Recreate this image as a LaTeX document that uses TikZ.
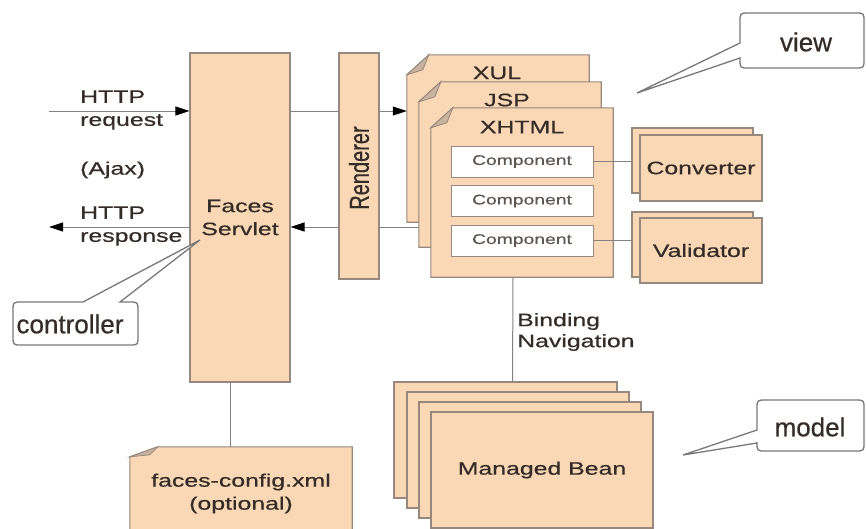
\documentclass[tikz,border=0pt]{standalone}
\usepackage{fontspec}
\usepackage{graphicx}
\setmainfont{Liberation Sans}
\newfontfamily\sfw[FakeStretch=1.38,FakeBold=0.6]{Liberation Sans}
\newfontfamily\sfr[FakeBold=0.6]{Liberation Sans}
\newfontfamily\sfc[FakeBold=0.5]{Liberation Sans}
\usetikzlibrary{arrows.meta}
\definecolor{peach}{RGB}{250,216,182}
\definecolor{edgec}{RGB}{150,136,124}
\definecolor{ink}{RGB}{52,44,40}
\definecolor{wire}{RGB}{130,130,130}
\definecolor{fold}{RGB}{200,180,160}
\definecolor{callc}{RGB}{120,120,120}
\begin{document}
\begin{tikzpicture}[x=1pt,y=-1pt,
  box/.style={draw=edgec, fill=peach, line width=1.1pt, inner sep=0pt, font=\sfw\fontsize{18}{23}\selectfont, text=ink, align=center},
  pagen/.style={draw=none, inner sep=0pt},
  pageshape/.style={draw=edgec, fill=peach, line width=1.1pt},
  foldshape/.style={draw=edgec, fill=fold, line width=0.8pt},
  lbl/.style={font=\sfw\fontsize{18}{23}\selectfont, text=ink, inner sep=0pt},
  comp/.style={draw=edgec, fill=white, line width=1pt, inner sep=0pt, minimum width=142pt, minimum height=31pt, font=\sfw\fontsize{14}{16}\selectfont, text=ink!80},
  wireline/.style={draw=wire, line width=1pt},
  arr/.style={-{Triangle[length=14pt,width=9pt,color=black,fill=black]}},
  callout/.style={draw=callc, line width=1.3pt, fill=white},
  calltext/.style={font=\sfc\fontsize{26}{30}\selectfont, text=ink, inner sep=0pt}]
\useasboundingbox (0,0) rectangle (866,528);
\clip (0,0) rectangle (866,528);

% Faces Servlet and Renderer
\node[box, minimum width=100pt, minimum height=329pt] (fs) at (240,217.5) {Faces\\Servlet};
\node[box, minimum width=40pt, minimum height=226pt] (ren) at (359,166) {};
\node[text=ink, rotate=90, inner sep=0pt] (rentxt) at (359,168) {\scalebox{1}[1.38]{\sfr\fontsize{20}{24}\selectfont Renderer}};

% pages
\node[pagen, minimum width=182pt, minimum height=167pt] (xul) at (498,138.5) {};
\filldraw[pageshape] ([xshift=22pt]xul.north west) -- (xul.north east) -- (xul.south east) -- (xul.south west) -- ([yshift=-20pt]xul.north west) -- cycle;
\filldraw[foldshape] ([xshift=22pt]xul.north west) -- ([yshift=-20pt]xul.north west) -- ([xshift=16pt,yshift=-15pt]xul.north west) -- cycle;
\node[lbl] (xullbl) at (497,73) {XUL};

\node[pagen, minimum width=182pt, minimum height=165pt] (jsp) at (510,164.5) {};
\filldraw[pageshape] ([xshift=22pt]jsp.north west) -- (jsp.north east) -- (jsp.south east) -- (jsp.south west) -- ([yshift=-20pt]jsp.north west) -- cycle;
\filldraw[foldshape] ([xshift=22pt]jsp.north west) -- ([yshift=-20pt]jsp.north west) -- ([xshift=16pt,yshift=-15pt]jsp.north west) -- cycle;
\node[lbl] (jsplbl) at (507,100) {JSP};

\node[pagen, minimum width=182pt, minimum height=169pt] (xhtml) at (522,192.5) {};
\filldraw[pageshape] ([xshift=22pt]xhtml.north west) -- (xhtml.north east) -- (xhtml.south east) -- (xhtml.south west) -- ([yshift=-20pt]xhtml.north west) -- cycle;
\filldraw[foldshape] ([xshift=22pt]xhtml.north west) -- ([yshift=-20pt]xhtml.north west) -- ([xshift=16pt,yshift=-15pt]xhtml.north west) -- cycle;
\node[lbl] (xhtmllbl) at (522,127) {XHTML};

\node[comp] (c1) at (522,161.5) {Component};
\node[comp] (c2) at (522,201) {Component};
\node[comp] (c3) at (522,240.5) {Component};

% Converter / Validator
\node[box, minimum width=121pt, minimum height=65pt] (convb) at (692.5,160.5) {};
\node[box, minimum width=122pt, minimum height=66pt] (conv) at (701,168) {Converter};
\node[box, minimum width=121pt, minimum height=65pt] (valb) at (692.5,244.5) {};
\node[box, minimum width=122pt, minimum height=65pt] (val) at (701,250.5) {Validator};
\draw[wireline] (c1.east) -- (c1.east -| convb.west);
\draw[wireline] (c3.east) -- (c3.east -| valb.west);

% Managed beans
\node[box, minimum width=223pt, minimum height=116pt] (b1) at (505.5,440) {};
\node[box, minimum width=222pt, minimum height=116pt] (b2) at (518,450) {};
\node[box, minimum width=222pt, minimum height=116pt] (b3) at (530,460) {};
\node[box, minimum width=222pt, minimum height=116pt] (b4) at (542,470) {Managed Bean};

% faces-config
\node[pagen, minimum width=222pt, minimum height=93pt] (cfg) at (241,493.5) {};
\filldraw[pageshape] ([xshift=28pt]cfg.north west) -- (cfg.north east) -- (cfg.south east) -- (cfg.south west) -- ([yshift=-10pt]cfg.north west) -- cycle;
\filldraw[foldshape] ([xshift=28pt]cfg.north west) -- ([yshift=-10pt]cfg.north west) -- ([xshift=20pt,yshift=-8pt]cfg.north west) -- cycle;
\node[lbl, align=center] (cfgtxt) at (241,493.5) {faces-config.xml\\(optional)};

% connectors
\draw[wireline] ([xshift=-10pt]fs.south) -- ([xshift=-11pt]cfg.north);
\draw[wireline] ([xshift=-9pt]xhtml.south) -- ([xshift=7pt]b1.north);

\coordinate (reqin) at (49,111);
\coordinate (respout) at (49,227);
\draw[wireline, arr] (reqin) -- (reqin -| fs.west);
\draw[wireline] (fs.east |- reqin) -- (ren.west |- reqin);
\draw[wireline, arr] (ren.east |- reqin) -- (xul.west |- reqin);
\draw[wireline] (jsp.west |- respout) -- (ren.east |- respout);
\draw[wireline, arr] (ren.west |- respout) -- (fs.east |- respout);
\draw[wireline, arr] (fs.west |- respout) -- (respout);

% labels
\node[lbl, anchor=west, align=left] (req) at (80,110) {HTTP\\request};
\node[lbl, anchor=west] (ajax) at (80,170) {(Ajax)};
\node[lbl, anchor=west, align=left] (resp) at (80,226) {HTTP\\response};
\node[lbl, anchor=west, align=left, font=\sfw\fontsize{18}{21}\selectfont] (bind) at (517,332) {Binding\\Navigation};

% callouts
\coordinate (vtip) at (637,93);
\draw[callout] (vtip) -- (740,58) -- (740,59) .. controls (740,68) .. (749,68) -- (855,68) .. controls (864,68) .. (864,59) -- (864,22) .. controls (864,13) .. (855,13) -- (749,13) .. controls (740,13) .. (740,22) -- (740,43) -- cycle;
\node[calltext] (viewt) at (806,42) {view};

\coordinate (ctip) at (200,240);
\draw[callout] (ctip) -- (120,302) -- (129,302) .. controls (138,302) .. (138,311) -- (138,336) .. controls (138,345) .. (129,345) -- (22,345) .. controls (13,345) .. (13,336) -- (13,311) .. controls (13,302) .. (22,302) -- (83,302) -- cycle;
\node[calltext] (ctrlt) at (70,324) {controller};

\coordinate (mtip) at (683,455);
\draw[callout] (mtip) -- (757,443) -- (757,442) .. controls (757,451) .. (766,451) -- (855,451) .. controls (864,451) .. (864,442) -- (864,409) .. controls (864,400) .. (855,400) -- (766,400) .. controls (757,400) .. (757,409) -- (757,430) -- cycle;
\node[calltext] (modelt) at (810,427) {model};
\end{tikzpicture}
\end{document}
